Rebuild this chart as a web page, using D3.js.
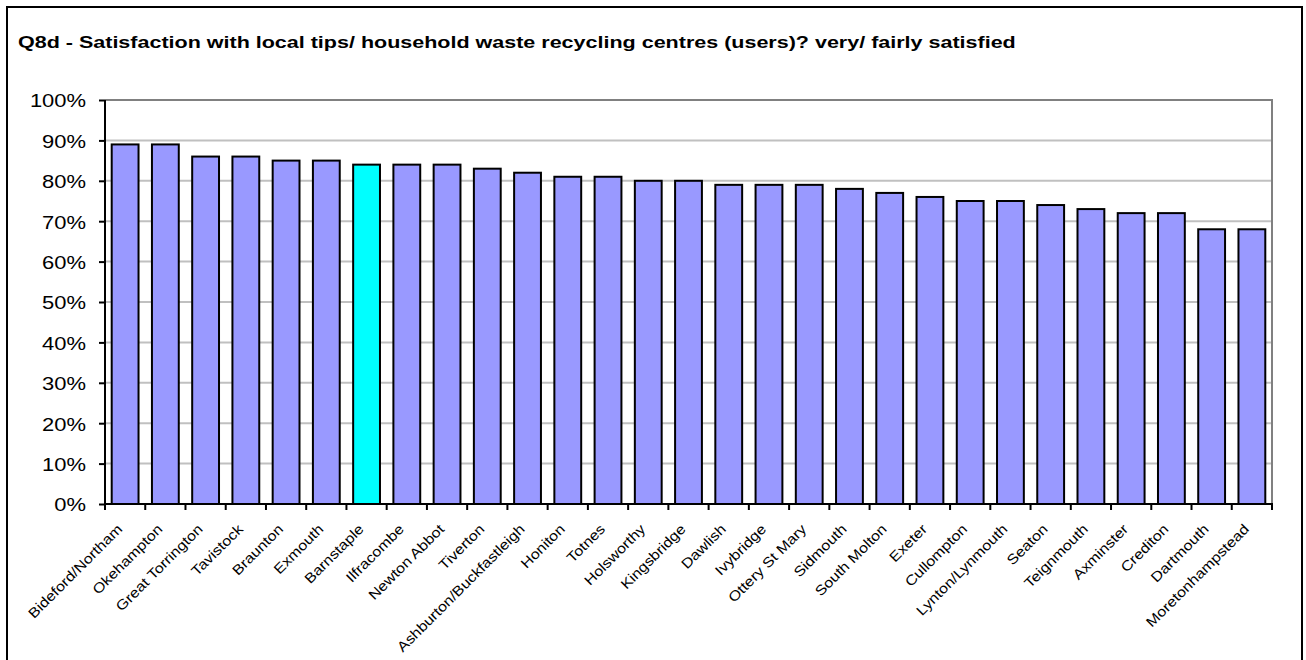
<!DOCTYPE html>
<html><head><meta charset="utf-8">
<script src="https://cdn.jsdelivr.net/npm/d3@7"></script>
<style>body{margin:0;background:#fff}svg{display:block}text{font-family:Arial,"Liberation Sans",sans-serif}</style>
</head><body>
<svg id="c" width="1306" height="660"></svg>
<script>
const titleText = "Q8d - Satisfaction with local tips/ household waste recycling centres (users)? very/ fairly satisfied";
const categories = ["Bideford/Northam","Okehampton","Great Torrington","Tavistock","Braunton","Exmouth","Barnstaple","Ilfracombe","Newton Abbot","Tiverton","Ashburton/Buckfastleigh","Honiton","Totnes","Holsworthy","Kingsbridge","Dawlish","Ivybridge","Ottery St Mary","Sidmouth","South Molton","Exeter","Cullompton","Lynton/Lynmouth","Seaton","Teignmouth","Axminster","Crediton","Dartmouth","Moretonhampstead"];
const values = [89,89,86,86,85,85,84,84,84,83,82,81,81,80,80,79,79,79,78,77,76,75,75,74,73,72,72,68,68];
const highlighted = ["Barnstaple"];
const yTicks = [0,10,20,30,40,50,60,70,80,90,100];

const svg = d3.select("#c");
const L = 105, R = 1272, T = 100, B = 504;

svg.append("rect").attr("x",7).attr("y",7).attr("width",1295).attr("height",680)
  .attr("fill","none").attr("stroke","#000").attr("stroke-width",2);

svg.append("text").attr("transform","translate(18,47.5) scale(1.266,1)")
  .attr("font-weight","bold").attr("font-size",17).text(titleText);

const x = d3.scaleBand().domain(categories).range([L,R]).paddingInner(1/3).paddingOuter(1/6);
const y = d3.scaleLinear().domain([0,100]).range([B,T]);

// gridlines
svg.append("g").selectAll("line").data(yTicks.filter(d=>d>0)).join("line")
  .attr("x1",L).attr("x2",R).attr("y1",d=>y(d)).attr("y2",d=>y(d))
  .attr("stroke", d=>d===100?"#808080":"#c0c0c0").attr("stroke-width",2);
// right border
svg.append("line").attr("x1",R).attr("x2",R).attr("y1",T-1).attr("y2",B).attr("stroke","#808080").attr("stroke-width",2);

// bars
svg.append("g").selectAll("rect").data(values).join("rect")
  .attr("x",(d,i)=>x(categories[i])).attr("width",x.bandwidth())
  .attr("y",d=>y(d)).attr("height",d=>B-y(d))
  .attr("fill",(d,i)=>highlighted.includes(categories[i])?"#00ffff":"#9999ff")
  .attr("stroke","#000").attr("stroke-width",2);

// y axis
const yAxis = d3.axisLeft(y).tickValues(yTicks).tickFormat(d=>d+"%").tickSize(6).tickPadding(19);
const gy = svg.append("g").attr("transform",`translate(${L},0)`).call(yAxis);
gy.select(".domain").attr("stroke","#000").attr("stroke-width",2).attr("d",`M0,${T}V${B}`);
gy.selectAll(".tick line").attr("stroke","#000").attr("stroke-width",2);
gy.selectAll(".tick text").attr("font-size",18).attr("fill","#000")
  .attr("font-family","Arial, 'Liberation Sans', sans-serif")
  .attr("dy","0.38em")
  .attr("transform","translate(-19,0) scale(1.22,1)").attr("x",0);

// x axis with ticks at category boundaries
const boundaries = d3.range(categories.length+1).map(i=>L+i*(R-L)/categories.length);
const gx = svg.append("g");
gx.append("line").attr("x1",L-1).attr("x2",R+1).attr("y1",B).attr("y2",B).attr("stroke","#000").attr("stroke-width",2);
gx.selectAll("line.tk").data(boundaries).join("line").attr("class","tk")
  .attr("x1",d=>d).attr("x2",d=>d).attr("y1",B).attr("y2",B+6).attr("stroke","#000").attr("stroke-width",2);
gx.selectAll("text").data(categories).join("text")
  .attr("transform",d=>`translate(${x(d)+x.bandwidth()/2-2},${B+26}) rotate(-45) scale(1.15,1)`)
  .attr("text-anchor","end").attr("font-size",14).text(d=>d);
</script>
</body></html>
